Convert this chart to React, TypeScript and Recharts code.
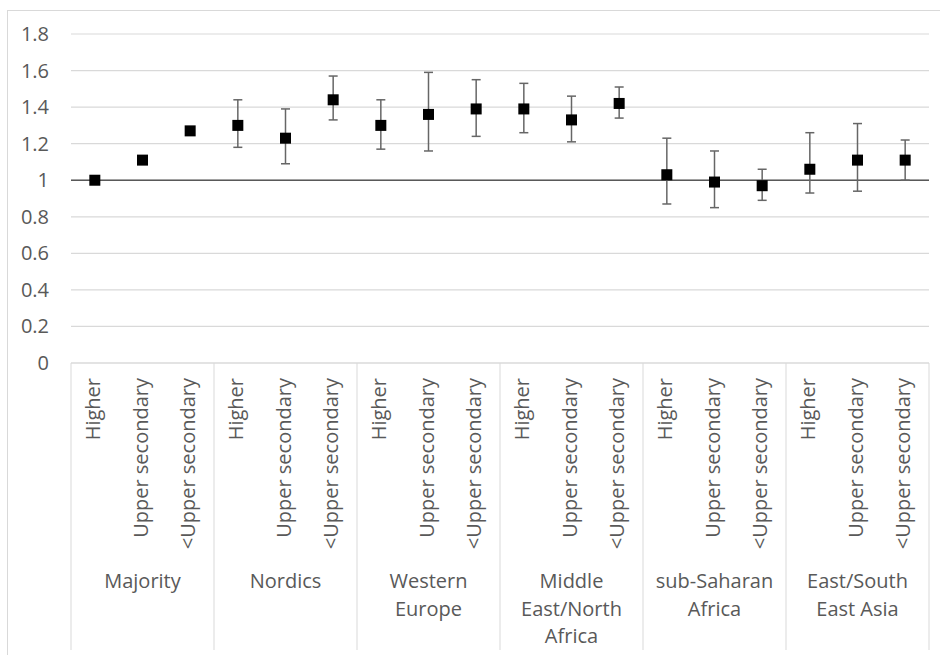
import { ComposedChart, Line, XAxis, YAxis, CartesianGrid, ReferenceLine, ErrorBar } from 'recharts';

const groups = [
  ['Majority'],
  ['Nordics'],
  ['Western', 'Europe'],
  ['Middle', 'East/North', 'Africa'],
  ['sub-Saharan', 'Africa'],
  ['East/South', 'East Asia'],
];
const levels = ['Higher', 'Upper secondary', '<Upper secondary'];

// point estimates and confidence limits
const estimates = [1.0, 1.11, 1.27, 1.3, 1.23, 1.44, 1.3, 1.36, 1.39, 1.39, 1.33, 1.42, 1.03, 0.99, 0.97, 1.06, 1.11, 1.11];
const lowerCI = [null, null, null, 1.18, 1.09, 1.33, 1.17, 1.16, 1.24, 1.26, 1.21, 1.34, 0.87, 0.85, 0.89, 0.93, 0.94, 1.0];
const upperCI = [null, null, null, 1.44, 1.39, 1.57, 1.44, 1.59, 1.55, 1.53, 1.46, 1.51, 1.23, 1.16, 1.06, 1.26, 1.31, 1.22];
const yTicks = [0, 0.2, 0.4, 0.6, 0.8, 1, 1.2, 1.4, 1.6, 1.8];

const data = estimates.map((v, i) => {
  const lo = lowerCI[i];
  const hi = upperCI[i];
  return {
    id: `c${i}`,
    group: Math.floor(i / 3),
    pos: i % 3,
    level: levels[i % 3],
    value: v,
    err: lo == null || hi == null ? [0, 0] : [v - lo, hi - v],
  };
});

const W = 940;
const H = 655;
const LEFT = 71;
const RIGHT = 11;
const HALF_BAND = (W - LEFT - RIGHT) / data.length / 2;
const FONT = '"Open Sans", "Noto Sans", sans-serif';
const FS = 20;
const TEXT = '#595959';
const LIGHT = '#d9d9d9';

const CategoryTick = (props: any) => {
  const { x, y, payload } = props;
  const d = data.find((r) => r.id === payload.value);
  if (!d) return null;
  const isLast = d.id === data[data.length - 1].id;
  return (
    <g>
      <text
        transform={`translate(${x},${y + 15}) rotate(-90)`}
        textAnchor="end"
        dy={5}
        fill={TEXT}
        fontSize={FS}
        fontFamily={FONT}
      >
        {d.level}
      </text>
      {d.pos === 0 && (
        <line x1={x - HALF_BAND} x2={x - HALF_BAND} y1={y} y2={y + 287} stroke={LIGHT} />
      )}
      {isLast && (
        <line x1={x + HALF_BAND} x2={x + HALF_BAND} y1={y} y2={y + 287} stroke={LIGHT} />
      )}
      {d.pos === 1 &&
        groups[d.group].map((line, k) => (
          <text
            key={k}
            x={x}
            y={y + 225 + k * 27.5}
            textAnchor="middle"
            fill={TEXT}
            fontSize={FS}
            fontFamily={FONT}
          >
            {line}
          </text>
        ))}
    </g>
  );
};

const ValueTick = (props: any) => {
  const { x, y, payload } = props;
  return (
    <text x={x} y={y} dy={7} textAnchor="end" fill={TEXT} fontSize={FS} fontFamily={FONT}>
      {String(payload.value)}
    </text>
  );
};

const SquareDot = (props: any) => {
  const { cx, cy, index } = props;
  if (cx == null || cy == null) return null;
  return <rect key={index} x={cx - 5.5} y={cy - 5.5} width={11} height={11} fill="#000" />;
};

export default function App() {
  return (
    <div style={{ position: 'absolute', left: 0, top: 0, width: W, height: H, overflow: 'hidden', background: '#fff' }}>
      <div
        style={{
          position: 'absolute',
          left: 7,
          top: 10,
          width: W,
          height: H + 40,
          border: `1px solid ${LIGHT}`,
        }}
      />
      <div style={{ position: 'absolute', left: 0, top: 0 }}>
        <ComposedChart width={W} height={H} data={data} margin={{ top: 34, right: RIGHT, bottom: 0, left: 0 }}>
          <CartesianGrid vertical={false} stroke={LIGHT} strokeWidth={1.2} />
          <XAxis
            dataKey="id"
            type="category"
            scale="band"
            interval={0}
            height={H - 363}
            tickLine={false}
            tickSize={0}
            tickMargin={0}
            axisLine={{ stroke: LIGHT, strokeWidth: 1.2 }}
            tick={<CategoryTick />}
          />
          <YAxis
            width={LEFT}
            domain={[0, 1.8]}
            ticks={yTicks}
            axisLine={false}
            tickLine={false}
            tickSize={0}
            tickMargin={22}
            tick={<ValueTick />}
          />
          <ReferenceLine y={1} stroke="#595959" strokeWidth={1.5} />
          <Line
            dataKey="value"
            stroke="none"
            isAnimationActive={false}
            dot={<SquareDot />}
            activeDot={false}
          >
            <ErrorBar dataKey="err" direction="y" width={4.5} stroke="#666" strokeWidth={1.5} />
          </Line>
        </ComposedChart>
      </div>
    </div>
  );
}
